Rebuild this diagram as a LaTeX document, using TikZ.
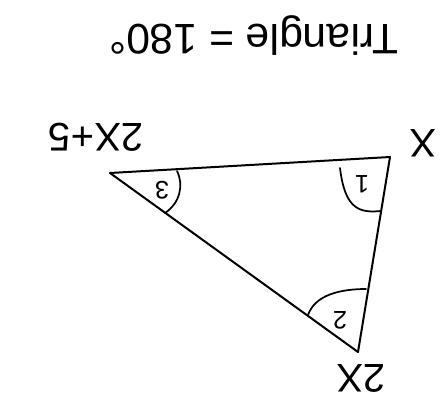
\documentclass[tikz,border=0pt]{standalone}
\usepackage{fontspec}
\setmainfont{Liberation Sans}
\begin{document}
\begin{tikzpicture}[x={(0.75pt,0)},y={(0,-0.75pt)},
  pen/.style={line width=1.5pt,line cap=round,line join=round},
  arcpen/.style={line width=1.3pt,line cap=round},
  hand/.style={rotate=180,inner sep=0pt,font=\fontsize{30}{34}\selectfont},
  small/.style={rotate=180,inner sep=0pt,font=\fontsize{19}{21}\selectfont}]
\useasboundingbox[fill=white] (0,0) rectangle (445,400);
\coordinate (A) at (110,173);
\coordinate (B) at (390,157);
\coordinate (C) at (358,352);
\draw[pen] (A) -- (B);
\draw[pen] (B) -- (C);
\draw[pen] (A) -- (C);
% angle arcs
\coordinate (a1) at (177,171);
\coordinate (a2) at (165,213);
\draw[arcpen] (a1) .. controls (184,185) and (180,203) .. (a2);
\coordinate (b1) at (340,168);
\coordinate (b2) at (381,211);
\draw[arcpen] (b1) .. controls (345,210) and (360,213) .. (b2);
\coordinate (c1) at (308,315);
\coordinate (c2) at (366,289);
\draw[arcpen] (c1) .. controls (315,295) and (340,289) .. (c2);
% angle labels
\node[small] (n1) at (362,184) {1};
\node[small] (n3) at (162,190) {3};
\node[small] (n2) at (340,320) {2};
% vertex labels
\node[hand] (lx) at (423,143) {X};
\node[hand] (l2x5) at (96,137) {2X+5};
\node[hand] (l2x) at (361,378) {2X};
\node[hand,font=\fontsize{32}{36}\selectfont] (title) at (254,36) {Triangle = 180°};
\end{tikzpicture}
\end{document}
